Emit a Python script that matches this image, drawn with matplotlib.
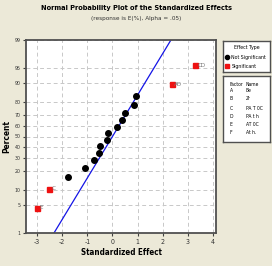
from statistics import NormalDist

import matplotlib
matplotlib.use("Agg")
import matplotlib.pyplot as plt

plt.rcParams['font.family'] = ['DejaVu Sans']
plt.rcParams['font.stretch'] = 'condensed'

# standardized effects (ascending order)
not_sig_effects = [-1.78, -1.10, -0.72, -0.52, -0.49, -0.22, -0.16, 0.18,
                   0.38, 0.51, 0.85, 0.92]
sig_effects = [-2.99, -2.53, 2.35, 3.30]
sig_labels = ['E', 'C', 'AD', 'CD']

pct_ticks = [1, 5, 10, 20, 30, 40, 50, 60, 70, 80, 90, 95, 99]
x_ticks = [-3, -2, -1, 0, 1, 2, 3, 4]

factors = ['A', 'B', 'C', 'D', 'E', 'F']
names = ['Be', 'Zr', 'PA T 0C', 'PA t h', 'AT 0C', 'At h.']

nd = NormalDist()
z = nd.inv_cdf

# Minitab-style median ranks: (i - 0.3) / (n + 0.4)
all_eff = sorted([(e, False, None) for e in not_sig_effects] +
                 [(e, True, l) for e, l in zip(sig_effects, sig_labels)])
n = len(all_eff)

bg = '#ece9d8'
fig = plt.figure(figsize=(2.72, 2.66), dpi=100, facecolor=bg)
ax = fig.add_axes([26 / 272, 33 / 266, 190 / 272, 193 / 266])
ax.set_facecolor('white')

# reference line (standard normal)
ax.plot([-4, 4.5], [-4, 4.5], color='#1414e6', lw=0.9, zorder=2)

for i, (e, sig, lab) in enumerate(all_eff, start=1):
    zz = z((i - 0.3) / (n + 0.4))
    if sig:
        ax.plot(e, zz, marker='s', ms=3.6, color='#ee1111', mec='#ee1111',
                ls='none', zorder=3)
        ax.text(e + 0.1, zz, lab, fontsize=4.5, color='#777777',
                va='center', ha='left')
    else:
        ax.plot(e, zz, marker='o', ms=4.0, color='black', ls='none', zorder=3)

ax.set_xlim(-3.44, 4.12)
ax.set_ylim(z(0.01), z(0.99))
ax.set_xticks(x_ticks)
ax.set_xticklabels([str(t) for t in x_ticks], fontsize=5)
ax.set_yticks([z(p / 100) for p in pct_ticks])
ax.set_yticklabels([str(p) for p in pct_ticks], fontsize=3.8)
ax.tick_params(length=2.5, width=0.8, color='#404040', pad=1.5,
               labelcolor='#333333')
ax.grid(True, ls=(0, (4, 3)), color='#c8c8c8', lw=0.7)
ax.set_axisbelow(True)
for s in ax.spines.values():
    s.set_color('#505050')
    s.set_linewidth(1.3)

ax.set_xlabel('Standardized Effect', fontsize=5.8, fontweight='bold',
              labelpad=2.5)
ax.set_ylabel('Percent', fontsize=6, fontweight='bold', labelpad=2)

fig.text(0.502, 0.970, 'Normal Probability Plot of the Standardized Effects',
         ha='center', va='center', fontsize=5.3, fontweight='bold')
fig.text(0.502, 0.929, '(response is E(%), Alpha = .05)',
         ha='center', va='center', fontsize=4.6, color='#333333')

# legend box: effect type
lg = fig.add_axes([223 / 272, (266 - 72) / 266, 47 / 272, 31 / 266])
lg.set_facecolor('white')
lg.set_xticks([])
lg.set_yticks([])
lg.set_xlim(0, 1)
lg.set_ylim(0, 1)
for s in lg.spines.values():
    s.set_color('#505050')
    s.set_linewidth(1.0)
lg.text(0.5, 0.78, 'Effect Type', ha='center', va='center', fontsize=3.8)
lg.plot(0.09, 0.47, marker='o', ms=3.0, color='black')
lg.text(0.18, 0.47, 'Not Significant', va='center', fontsize=3.8)
lg.plot(0.09, 0.18, marker='s', ms=2.8, color='#ee1111')
lg.text(0.18, 0.18, 'Significant', va='center', fontsize=3.8)

# factor table box
tb = fig.add_axes([223 / 272, (266 - 142) / 266, 47 / 272, 66 / 266])
tb.set_facecolor('white')
tb.set_xticks([])
tb.set_yticks([])
tb.set_xlim(0, 47)
tb.set_ylim(142, 76)
for s in tb.spines.values():
    s.set_color('#505050')
    s.set_linewidth(1.0)
tb.text(7, 84, 'Factor', va='center', fontsize=3.6)
tb.text(23, 84, 'Name', va='center', fontsize=3.6)
row_y = [91, 99, 109, 116, 124, 133]
for f, nm, yy in zip(factors, names, row_y):
    tb.text(7, yy, f, va='center', fontsize=3.6)
    tb.text(23, yy, nm, va='center', fontsize=3.6)

fig.savefig('out.png', dpi=100, facecolor=bg)
